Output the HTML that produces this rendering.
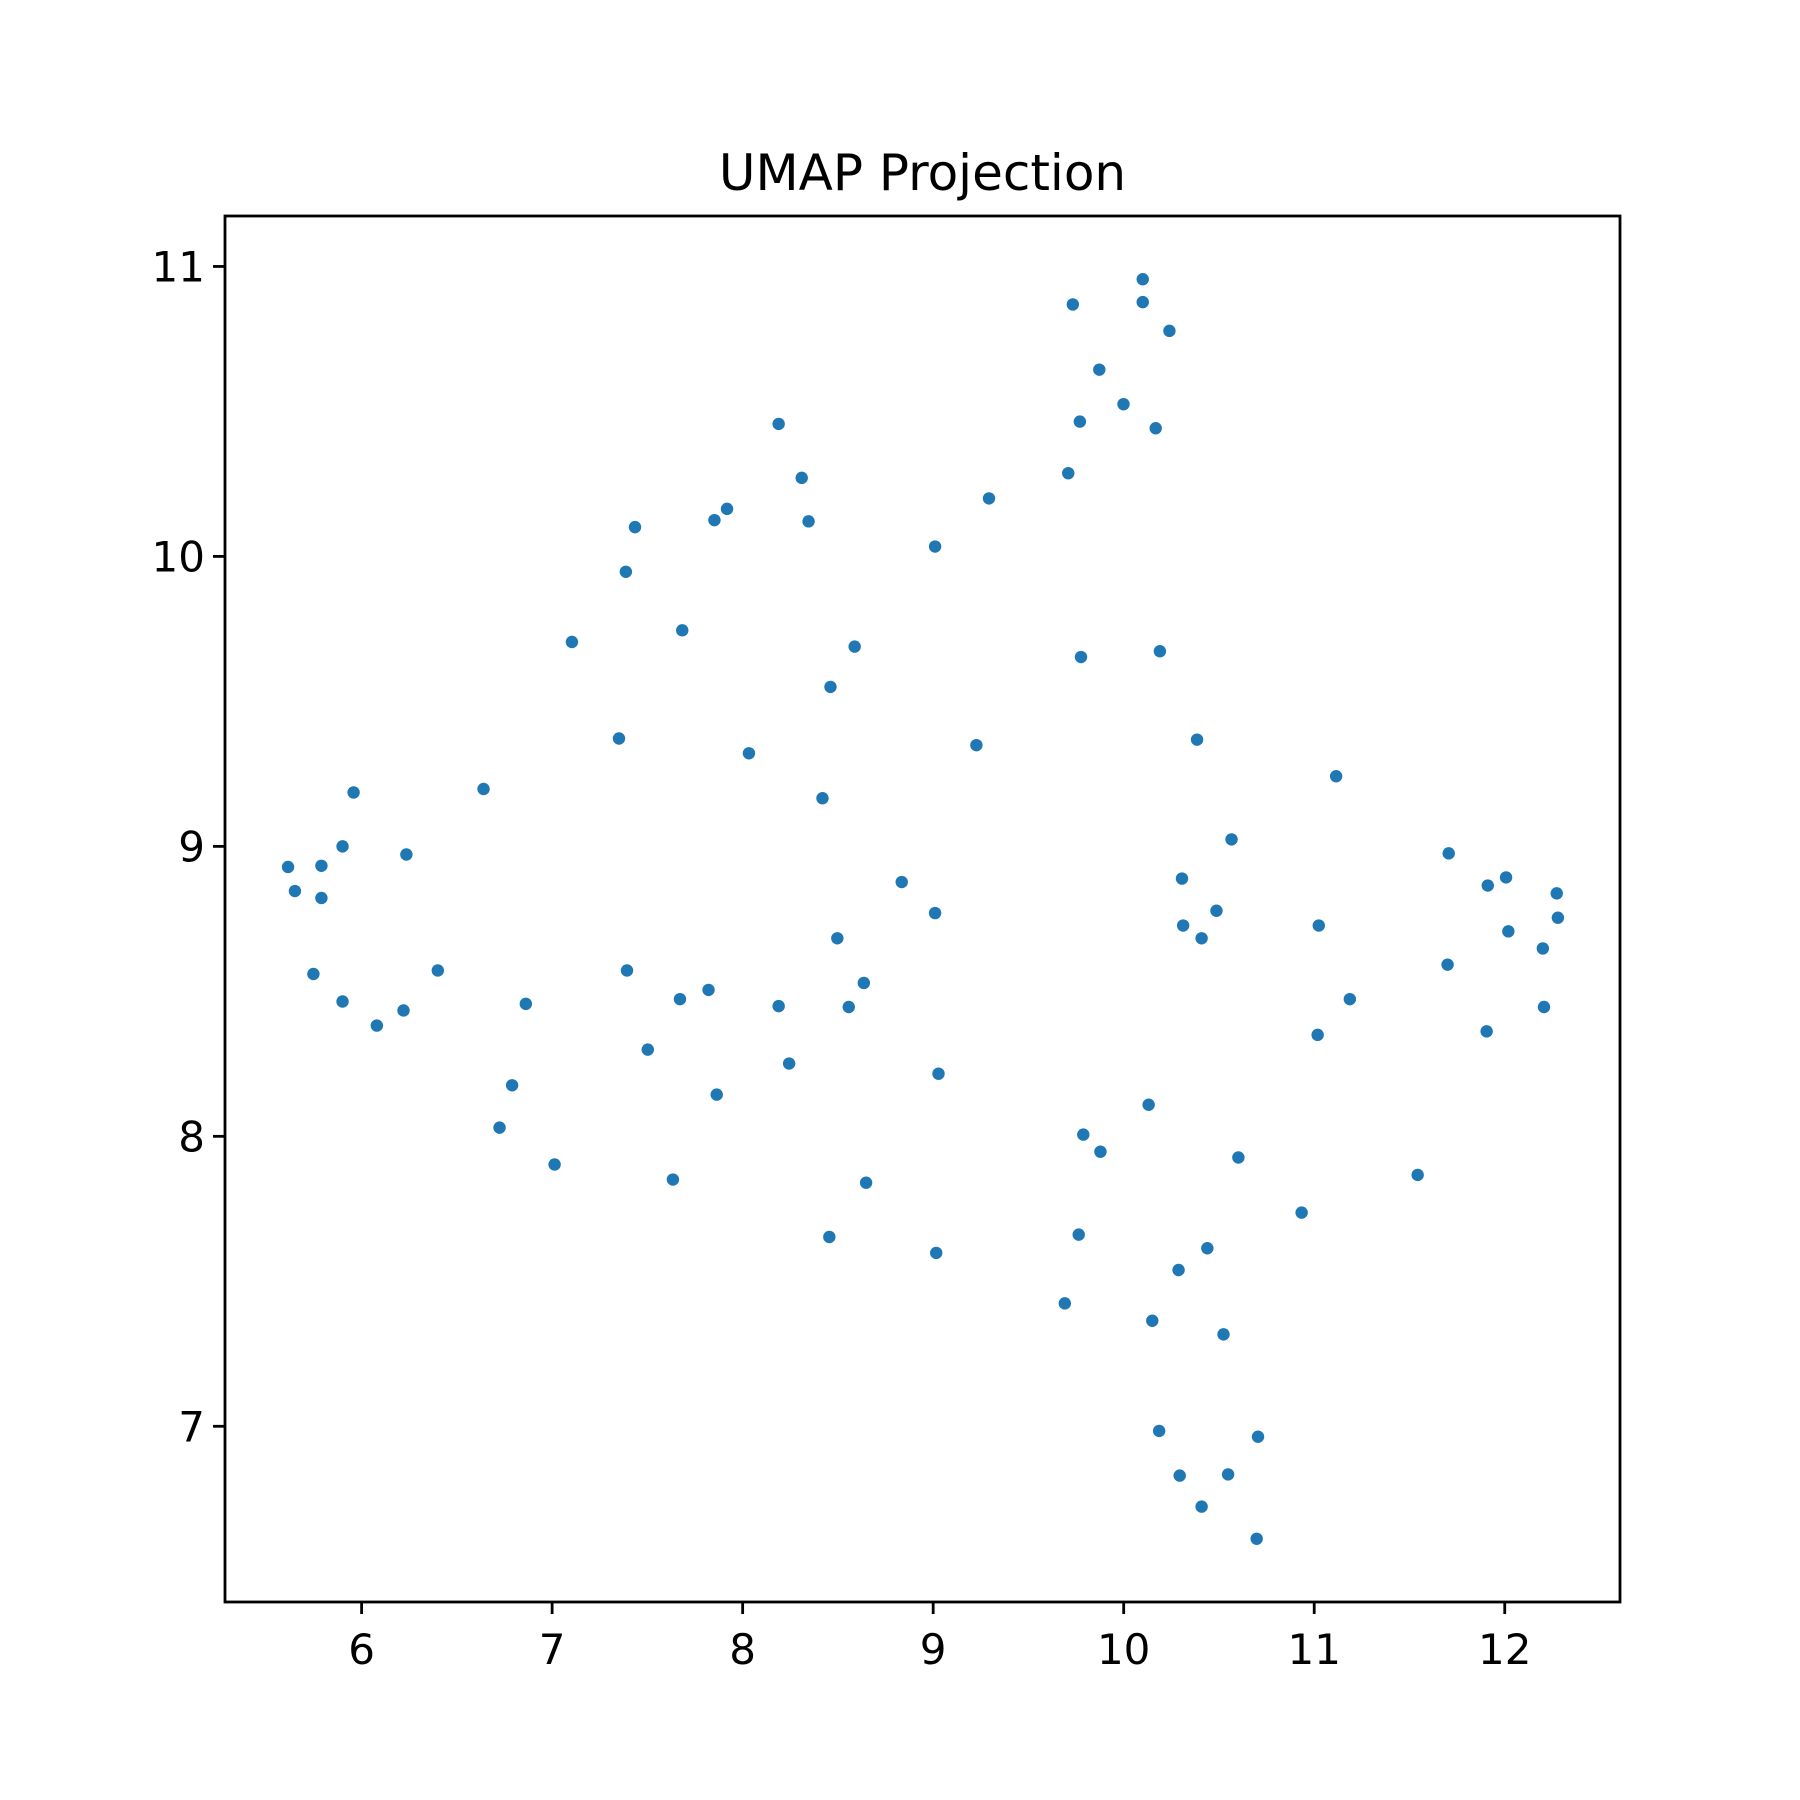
<!DOCTYPE html>
<html><head><meta charset="utf-8"><style>
html,body{margin:0;padding:0;background:#fff}
svg{display:block}
text{font-family:"DejaVu Sans","Liberation Sans",sans-serif;fill:#000}
</style></head><body>
<svg id="chart" width="1800" height="1800" viewBox="0 0 1800 1800" xmlns="http://www.w3.org/2000/svg">
<rect x="0" y="0" width="1800" height="1800" fill="#fff"/>
<text x="922.5" y="190" font-size="50" text-anchor="middle">UMAP Projection</text>
<g id="points"></g>
<g id="axes"></g>
</svg>
<script>
const xTicks = [6,7,8,9,10,11,12];
const yTicks = [7,8,9,10,11];
const xVals = [5.614,5.65,5.789,5.789,5.90,5.958,6.235,5.747,5.90,6.08,6.22,6.40,6.64,6.862,6.79,6.724,7.013,7.104,7.387,7.435,7.351,7.393,7.502,7.683,7.671,7.821,7.634,7.864,7.852,7.918,8.033,8.189,8.31,8.346,8.189,8.244,8.419,8.461,8.588,8.497,8.557,8.636,8.648,8.455,8.835,9.01,9.01,9.028,9.016,9.227,9.293,9.709,9.733,9.77,9.872,9.999,10.10,10.10,10.24,10.168,9.776,10.19,10.385,10.566,10.306,10.312,10.409,10.487,10.131,9.788,9.878,10.602,9.764,9.691,10.288,10.439,10.15,10.524,10.186,10.705,10.294,10.548,10.409,10.698,10.934,11.115,11.024,11.018,11.187,11.543,11.706,11.70,11.911,12.007,11.905,12.019,12.20,12.206,12.273,12.279];
const yVals = [8.929,8.846,8.933,8.822,9.0,9.186,8.972,8.560,8.465,8.382,8.434,8.572,9.198,8.457,8.176,8.030,7.903,9.705,9.947,10.101,9.372,8.572,8.299,9.745,8.473,8.505,7.851,8.144,10.125,10.164,9.321,10.457,10.271,10.121,8.449,8.251,9.166,9.550,9.689,8.683,8.446,8.529,7.840,7.653,8.877,10.034,8.770,8.216,7.598,9.349,10.2,10.287,10.869,10.465,10.644,10.525,10.956,10.877,10.778,10.442,9.653,9.673,9.368,9.024,8.889,8.727,8.683,8.778,8.109,8.006,7.947,7.927,7.661,7.424,7.539,7.614,7.364,7.317,6.984,6.964,6.830,6.834,6.723,6.612,7.737,9.242,8.727,8.350,8.473,7.867,8.976,8.592,8.865,8.893,8.362,8.707,8.648,8.446,8.838,8.754];

const L=225,R=1620,T=216,B=1602;
const xMin=5.283,xMax=12.605,yMin=6.394,yMax=11.174;
function sx(v){return L+(v-xMin)/(xMax-xMin)*(R-L);}
function sy(v){return B-(v-yMin)/(yMax-yMin)*(B-T);}
const NS='http://www.w3.org/2000/svg';
const pts=document.getElementById('points');
for(let i=0;i<xVals.length;i++){
  const c=document.createElementNS(NS,'circle');
  c.setAttribute('cx',sx(xVals[i]));
  c.setAttribute('cy',sy(yVals[i]));
  c.setAttribute('r',6.2);
  c.setAttribute('fill','#1f77b4');
  
  
  pts.appendChild(c);
}
const ax=document.getElementById('axes');
const frame=document.createElementNS(NS,'rect');
frame.setAttribute('x',L);frame.setAttribute('y',T);
frame.setAttribute('width',R-L);frame.setAttribute('height',B-T);
frame.setAttribute('fill','none');frame.setAttribute('stroke','#000');frame.setAttribute('stroke-width','2.8');


ax.appendChild(frame);
xTicks.forEach(t=>{
  const x=sx(t);
  const ln=document.createElementNS(NS,'line');
  ln.setAttribute('x1',x);ln.setAttribute('x2',x);ln.setAttribute('y1',B);ln.setAttribute('y2',B+12);
  ln.setAttribute('stroke','#000');ln.setAttribute('stroke-width','2.8');
  
  
  ax.appendChild(ln);
  const tx=document.createElementNS(NS,'text');
  tx.setAttribute('x',x);tx.setAttribute('y',B+62);
  tx.setAttribute('font-size','42');tx.setAttribute('text-anchor','middle');
  tx.textContent=t;
  
  
  ax.appendChild(tx);
});
yTicks.forEach(t=>{
  const y=sy(t);
  const ln=document.createElementNS(NS,'line');
  ln.setAttribute('x1',L-12);ln.setAttribute('x2',L);ln.setAttribute('y1',y);ln.setAttribute('y2',y);
  ln.setAttribute('stroke','#000');ln.setAttribute('stroke-width','2.8');
  
  
  ax.appendChild(ln);
  const tx=document.createElementNS(NS,'text');
  tx.setAttribute('x',L-20);tx.setAttribute('y',y+15);
  tx.setAttribute('font-size','42');tx.setAttribute('text-anchor','end');
  tx.textContent=t;
  
  
  ax.appendChild(tx);
});
</script>
</body></html>
